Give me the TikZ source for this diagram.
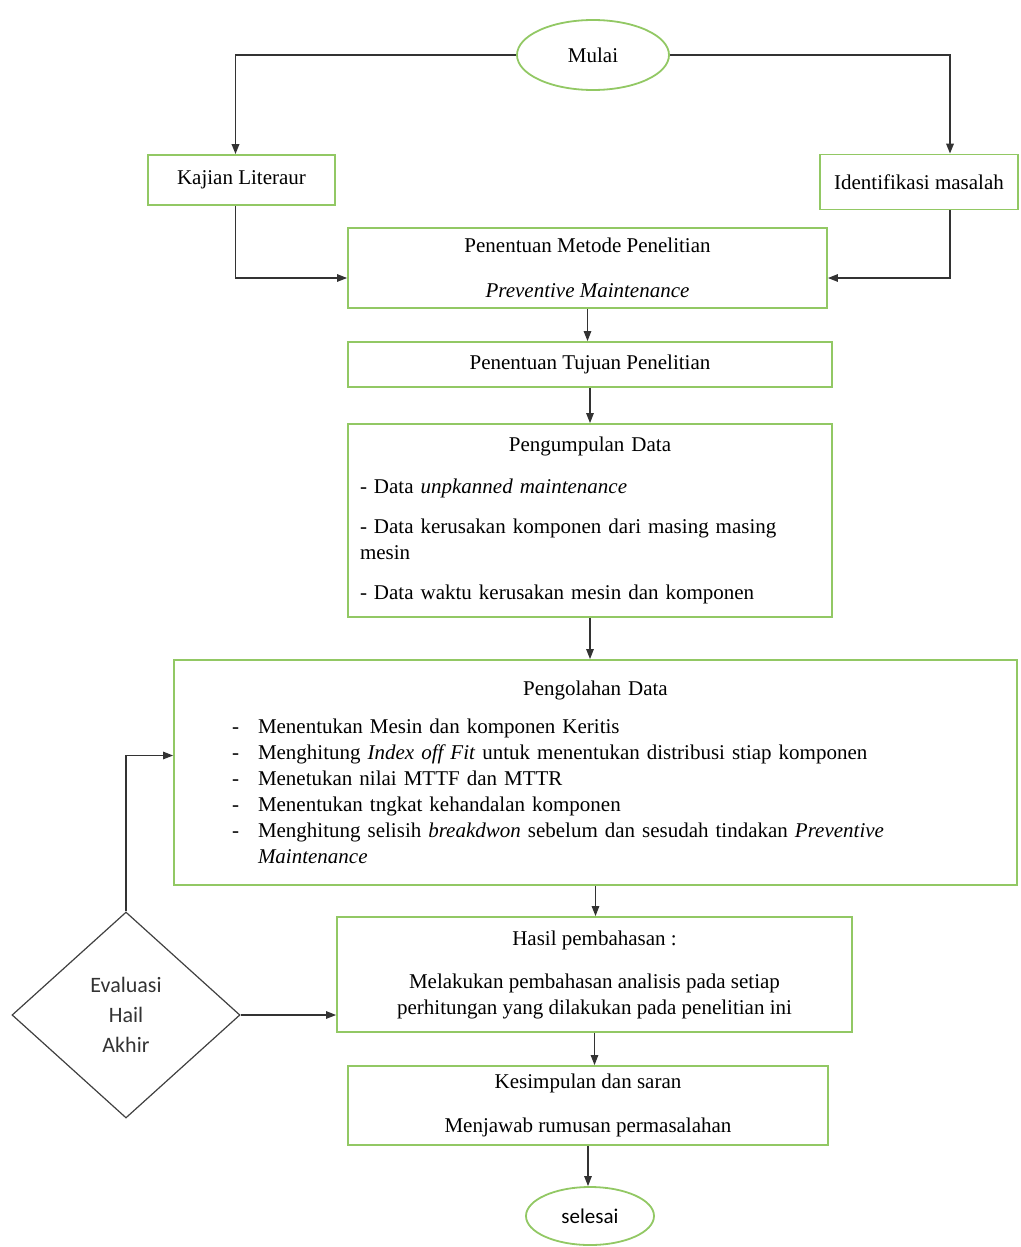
\documentclass[tikz,border=0pt]{standalone}
\usepackage{fontspec}
\setmainfont{Liberation Serif}
\newfontfamily\calfont{Carlito}
\usetikzlibrary{arrows.meta,shapes.geometric}
\definecolor{boxgreen}{RGB}{146,200,100}
\newcommand{\dashitem}[1]{\par\noindent\hangindent=26pt\hangafter=1\makebox[26pt][l]{-}#1\par}

\begin{document}
\begin{tikzpicture}[x=1pt,y=-1pt,>={Triangle[length=10pt,width=7.5pt]},
    every node/.style={align=center,font=\fontsize{21}{26}\selectfont},
    box/.style={draw=boxgreen,line width=1.8pt,inner sep=0pt},
    flow/.style={->,line width=1.2pt,black!80}]
  \useasboundingbox (0,0) rectangle (1020,1247);
  % start and the two first steps
  \node[box,ellipse,minimum width=152,minimum height=70] (mulai) at (593,55) {Mulai};
  \node[box,minimum width=187,minimum height=50] (kajian) at (241.5,180) {Kajian Literaur};
  \node[box,minimum width=198,minimum height=55] (ident) at (919,182) {Identifikasi masalah};
  \node[box,minimum width=479,minimum height=80] (metode) at (587.5,268)
    {Penentuan Metode Penelitian\\[19pt]\textit{Preventive Maintenance}};
  \node[box,minimum width=484,minimum height=45] (tujuan) at (590,364.5) {Penentuan Tujuan Penelitian};
  \node[box,minimum width=484,minimum height=193,text width=460,align=left] (kumpul) at (590,520.5)
    {{\centering Pengumpulan Data\par}\vspace{16pt}
     - Data \textit{unpkanned maintenance}\par\vspace{14pt}
     - Data kerusakan komponen dari masing masing\\mesin\par\vspace{14pt}
     - Data waktu kerusakan mesin dan komponen};
  \node[box,minimum width=843,minimum height=225,text width=727,align=left] (olah) at (595.5,772.5)
    {{\centering Pengolahan Data\par}\vspace{12pt}
     \dashitem{Menentukan Mesin dan komponen Keritis}
     \dashitem{Menghitung \textit{Index off Fit} untuk menentukan distribusi stiap komponen}
     \dashitem{Menetukan nilai MTTF dan MTTR}
     \dashitem{Menentukan tngkat kehandalan komponen}
     \dashitem{Menghitung selisih \textit{breakdwon} sebelum dan sesudah tindakan \textit{Preventive}\newline\textit{Maintenance}}};
  \node[box,minimum width=515,minimum height=115] (hasil) at (594.5,974.5)
    {Hasil pembahasan :\\[17pt]Melakukan pembahasan analisis pada setiap\\perhitungan yang dilakukan pada penelitian ini};
  \node[box,minimum width=480,minimum height=79] (simpul) at (588,1105.5)
    {Kesimpulan dan saran\\[18pt]Menjawab rumusan permasalahan};
  \node[box,ellipse,minimum width=128,minimum height=58] (selesai) at (590,1216)
    {\calfont selesai};
  \node[diamond,draw=black!75,line width=1.2pt,inner sep=0pt,minimum width=228,minimum height=206,
    font=\calfont\fontsize{22}{30}\selectfont,text=black!80] (eval) at (126,1015) {Evaluasi\\Hail\\Akhir};
  % connectors
  \draw[flow,line width=1.8pt] (mulai.west) -| ([xshift=-6pt]kajian.north);
  \draw[flow,line width=1.8pt] (mulai.east) -| ([xshift=31pt]ident.north);
  \draw[flow] ([xshift=-6pt]kajian.south) |- ([yshift=-10pt]metode.west);
  \draw[flow] ([xshift=31pt]ident.south) |- ([yshift=-10pt]metode.east);
  \draw[flow] (metode.south) -- (metode.south |- tujuan.north);
  \draw[flow] (tujuan.south) -- (kumpul.north);
  \draw[flow] (kumpul.south) -- (kumpul.south |- olah.north);
  \draw[flow] (olah.south) -- (olah.south |- hasil.north);
  \draw[flow] (hasil.south) -- (hasil.south |- simpul.north);
  \draw[flow] (simpul.south) -- (simpul.south |- selesai.north);
  \draw[flow] (eval.east) -- (eval.east -| hasil.west);
  \draw[flow] (eval.north) |- ([yshift=17pt]olah.west);
\end{tikzpicture}
\end{document}
